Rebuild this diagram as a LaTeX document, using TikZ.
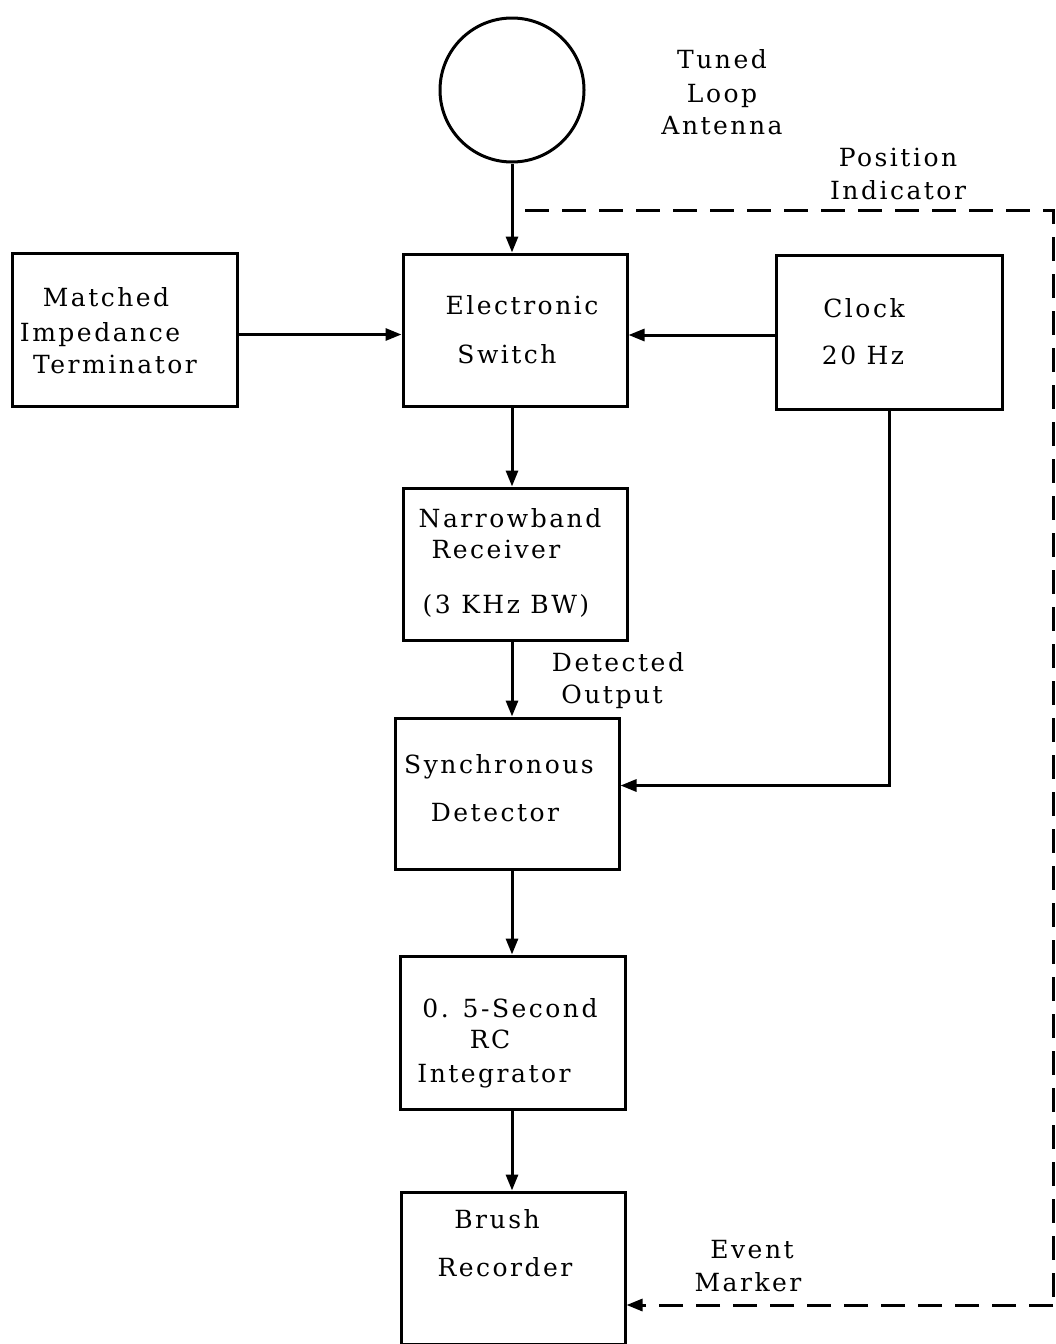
\documentclass[tikz,border=0pt]{standalone}
\usepackage{fontspec}
\setmainfont{DejaVu Serif}[LetterSpace=10]
\usetikzlibrary{arrows.meta,calc}
\begin{document}
\begin{tikzpicture}[x=1pt,y=-1pt,
 blk/.style={draw,line width=3pt,rectangle,inner sep=0pt},
 lbl/.style={inner sep=0pt,font=\fontsize{25}{30}\selectfont,text height=18pt,text depth=5pt},
 arr/.style={line width=3pt,-{Triangle[length=16pt,width=12pt]}},
 dsh/.style={line width=3pt,dash pattern=on 24pt off 13pt}]
\useasboundingbox (0,0) rectangle (1055,1344);
% antenna
\node[draw,circle,line width=3pt,minimum size=144pt,inner sep=0pt] (ant) at (512,90) {};
% boxes
\node[blk,minimum width=225pt,minimum height=153pt] (tm) at (124.5,329.5) {};
\node[blk,minimum width=224pt,minimum height=152pt] (sw) at (515,330) {};
\node[blk,minimum width=226pt,minimum height=154pt] (clk) at (889,332) {};
\node[blk,minimum width=224pt,minimum height=152pt] (nb) at (515,564) {};
\node[blk,minimum width=224pt,minimum height=151pt] (sd) at (507,793.5) {};
\node[blk,minimum width=225pt,minimum height=153pt] (ri) at (512.5,1032.5) {};
\node[blk,minimum width=224pt,minimum height=152pt] (br) at (513,1268) {};
% labels
\node[lbl] (l1) at (722,62) {Tuned};
\node[lbl] (l2) at (722,96) {Loop};
\node[lbl] (l3) at (722,128) {Antenna};
\node[lbl] (l4) at (898,160) {Position};
\node[lbl] (l5) at (898,193) {Indicator};
\node[lbl] (l6) at (106,300) {Matched};
\node[lbl] (l7) at (100,335) {Impedance};
\node[lbl] (l8) at (115,367) {Terminator};
\node[lbl] (l9) at (522,308) {Electronic};
\node[lbl] (l10) at (507,357) {Switch};
\node[lbl] (l11) at (864,311) {Clock};
\node[lbl] (l12) at (863,358) {20 Hz};
\node[lbl] (l13) at (510,521) {Narrowband};
\node[lbl] (l14) at (496,552) {Receiver};
\node[lbl] (l15) at (506,607) {(3 KHz BW)};
\node[lbl] (l16) at (618,665) {Detected};
\node[lbl] (l17) at (612,697) {Output};
\node[lbl] (l18) at (499,767) {Synchronous};
\node[lbl] (l19) at (495,815) {Detector};
\node[lbl] (l20) at (510,1011) {0. 5-Second};
\node[lbl] (l21) at (490,1042) {RC};
\node[lbl] (l22) at (494,1076) {Integrator};
\node[lbl] (l23) at (497,1222) {Brush};
\node[lbl] (l24) at (505,1270) {Recorder};
\node[lbl] (l25) at (752,1252) {Event};
\node[lbl] (l26) at (748,1285) {Marker};
% connectors
\draw[arr] (ant.south) -- (sw.north -| ant);
\draw[arr] ([yshift=-5pt]tm.east) -- ([yshift=-5pt]tm.east -| sw.west);
\draw[arr] ([yshift=-3pt]clk.west) -- ([yshift=-3pt]clk.west -| sw.east);
\draw[arr] (sw.south -| ant) -- (nb.north -| ant);
\draw[arr] (nb.south -| ant) -- (sd.north -| ant);
\draw[arr] (sd.south -| ant) -- (ri.north -| ant);
\draw[arr] (ri.south -| ant) -- (br.north -| ant);
\draw[arr] (clk.south) |- ([yshift=8pt]sd.east);
\coordinate (pi) at (525,210);
\coordinate (pc) at (1053,1305);
\draw[dsh] (pi) -| (pc);
\draw[dsh,-{Triangle[length=16pt,width=12pt]}] (pc) -- (pc -| br.east);
\end{tikzpicture}
\end{document}
